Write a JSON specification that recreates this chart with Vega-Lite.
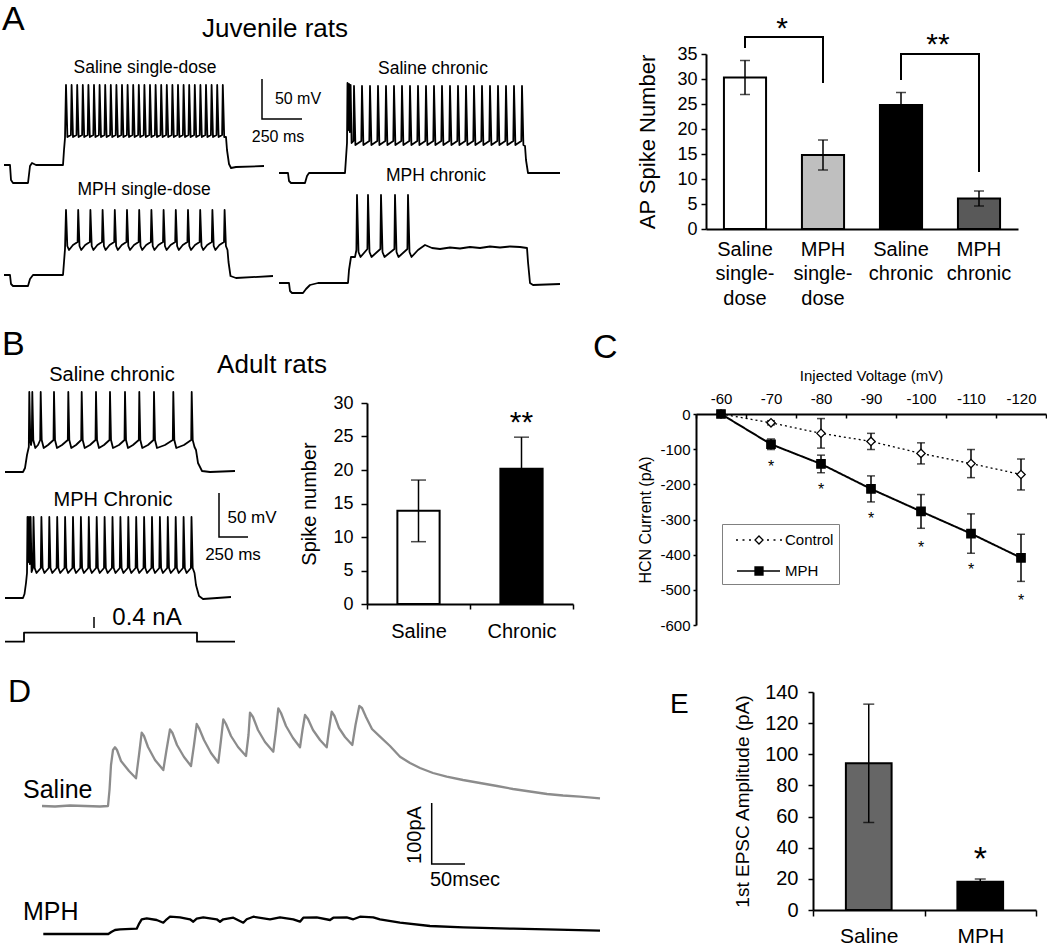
{
"$schema":"https://vega.github.io/schema/vega-lite/v6.json",
"padding":0,
"background":"white",
"spacing":0,
"resolve":{"scale":{"fill":"independent","color":"independent","shape":"independent","strokeDash":"independent","strokeWidth":"independent"}},
"config":{
 "view":{"stroke":null},
 "font":"Liberation Sans",
 "axis":{"labelFont":"Liberation Sans","titleFont":"Liberation Sans","labelColor":"black","titleColor":"black","domainColor":"black","tickColor":"black","titleFontWeight":"normal","grid":false,"domainWidth":2,"tickWidth":1.5,"labelOverlap":false,"labelFlush":false},
 "text":{"color":"black","font":"Liberation Sans"}
},
"vconcat":[
{"spacing":0,"bounds":"flush","resolve":{"scale":{"fill":"independent","color":"independent","shape":"independent","strokeDash":"independent","strokeWidth":"independent"}},"hconcat":[
 {"width":706,"height":310,
  "encoding":{
   "x":{"field":"t","type":"quantitative","scale":{"domain":[0,706],"nice":false,"zero":false},"axis":null},
   "y":{"field":"v","type":"quantitative","scale":{"domain":[0,310],"nice":false,"zero":false,"reverse":true},"axis":null}},
  "layer":[
   {"data":{"values":[
{"s":"a1","t":4,"v":165},{"s":"a1","t":10,"v":165},{"s":"a1","t":11,"v":180},{"s":"a1","t":13,"v":183},{"s":"a1","t":28,"v":183},{"s":"a1","t":30,"v":166},{"s":"a1","t":32,"v":163},{"s":"a1","t":36,"v":165},{"s":"a1","t":63,"v":165},{"s":"a1","t":64,"v":150},{"s":"a1","t":65,"v":138},
{"s":"a1","t":66,"v":85},{"s":"a1","t":67.4,"v":137},{"s":"a1","t":70.9,"v":135},
{"s":"a1","t":71.6,"v":85},{"s":"a1","t":73,"v":137},{"s":"a1","t":76.5,"v":135},
{"s":"a1","t":77.2,"v":85},{"s":"a1","t":78.6,"v":137},{"s":"a1","t":82.1,"v":135},
{"s":"a1","t":82.8,"v":85},{"s":"a1","t":84.2,"v":137},{"s":"a1","t":87.7,"v":135},
{"s":"a1","t":88.4,"v":85},{"s":"a1","t":89.8,"v":137},{"s":"a1","t":93.3,"v":135},
{"s":"a1","t":94,"v":85},{"s":"a1","t":95.4,"v":137},{"s":"a1","t":98.9,"v":135},
{"s":"a1","t":99.6,"v":85},{"s":"a1","t":101,"v":137},{"s":"a1","t":104.5,"v":135},
{"s":"a1","t":105.2,"v":85},{"s":"a1","t":106.6,"v":137},{"s":"a1","t":110.1,"v":135},
{"s":"a1","t":110.8,"v":85},{"s":"a1","t":112.2,"v":137},{"s":"a1","t":115.7,"v":135},
{"s":"a1","t":116.4,"v":85},{"s":"a1","t":117.8,"v":137},{"s":"a1","t":121.3,"v":135},
{"s":"a1","t":122,"v":85},{"s":"a1","t":123.4,"v":137},{"s":"a1","t":126.9,"v":135},
{"s":"a1","t":127.6,"v":85},{"s":"a1","t":129,"v":137},{"s":"a1","t":132.5,"v":135},
{"s":"a1","t":133.2,"v":85},{"s":"a1","t":134.6,"v":137},{"s":"a1","t":138.1,"v":135},
{"s":"a1","t":138.8,"v":85},{"s":"a1","t":140.2,"v":137},{"s":"a1","t":143.7,"v":135},
{"s":"a1","t":144.4,"v":85},{"s":"a1","t":145.8,"v":137},{"s":"a1","t":149.3,"v":135},
{"s":"a1","t":150,"v":85},{"s":"a1","t":151.4,"v":137},{"s":"a1","t":154.9,"v":135},
{"s":"a1","t":155.6,"v":85},{"s":"a1","t":157,"v":137},{"s":"a1","t":160.5,"v":135},
{"s":"a1","t":161.2,"v":85},{"s":"a1","t":162.6,"v":137},{"s":"a1","t":166.1,"v":135},
{"s":"a1","t":166.8,"v":85},{"s":"a1","t":168.2,"v":137},{"s":"a1","t":171.7,"v":135},
{"s":"a1","t":172.4,"v":85},{"s":"a1","t":173.8,"v":137},{"s":"a1","t":177.3,"v":135},
{"s":"a1","t":178,"v":85},{"s":"a1","t":179.4,"v":137},{"s":"a1","t":182.9,"v":135},
{"s":"a1","t":183.6,"v":85},{"s":"a1","t":185,"v":137},{"s":"a1","t":188.5,"v":135},
{"s":"a1","t":189.2,"v":85},{"s":"a1","t":190.6,"v":137},{"s":"a1","t":194.1,"v":135},
{"s":"a1","t":194.8,"v":85},{"s":"a1","t":196.2,"v":137},{"s":"a1","t":199.7,"v":135},
{"s":"a1","t":200.4,"v":85},{"s":"a1","t":201.8,"v":137},{"s":"a1","t":205.3,"v":135},
{"s":"a1","t":206,"v":85},{"s":"a1","t":207.4,"v":137},{"s":"a1","t":210.9,"v":135},
{"s":"a1","t":211.6,"v":85},{"s":"a1","t":213,"v":137},{"s":"a1","t":216.5,"v":135},
{"s":"a1","t":217.2,"v":85},{"s":"a1","t":218.6,"v":137},{"s":"a1","t":222.1,"v":135},
{"s":"a1","t":222.8,"v":85},{"s":"a1","t":224.2,"v":137},{"s":"a1","t":226,"v":137},{"s":"a1","t":227,"v":150},{"s":"a1","t":229,"v":164},{"s":"a1","t":231,"v":168},{"s":"a1","t":236,"v":167},{"s":"a1","t":264,"v":166},
{"s":"a2","t":279,"v":173},{"s":"a2","t":288,"v":173},{"s":"a2","t":289,"v":181},{"s":"a2","t":291,"v":183},{"s":"a2","t":305,"v":183},{"s":"a2","t":307,"v":176},{"s":"a2","t":309,"v":173},{"s":"a2","t":345,"v":173},{"s":"a2","t":346,"v":158},{"s":"a2","t":347,"v":143},
{"s":"a2","t":347.5,"v":83},{"s":"a2","t":348.2,"v":130},{"s":"a2","t":349,"v":84},{"s":"a2","t":349.8,"v":132},{"s":"a2","t":350.6,"v":85},{"s":"a2","t":351.6,"v":143},{"s":"a2","t":353.5,"v":141},
{"s":"a2","t":354,"v":86},{"s":"a2","t":355.4,"v":145},{"s":"a2","t":361.3,"v":141},
{"s":"a2","t":362,"v":86},{"s":"a2","t":363.4,"v":145},{"s":"a2","t":369.3,"v":141},
{"s":"a2","t":370,"v":86},{"s":"a2","t":371.4,"v":145},{"s":"a2","t":377.3,"v":141},
{"s":"a2","t":378,"v":86},{"s":"a2","t":379.4,"v":145},{"s":"a2","t":385.3,"v":141},
{"s":"a2","t":386,"v":86},{"s":"a2","t":387.4,"v":145},{"s":"a2","t":393.3,"v":141},
{"s":"a2","t":394,"v":86},{"s":"a2","t":395.4,"v":145},{"s":"a2","t":401.3,"v":141},
{"s":"a2","t":402,"v":86},{"s":"a2","t":403.4,"v":145},{"s":"a2","t":409.3,"v":141},
{"s":"a2","t":410,"v":86},{"s":"a2","t":411.4,"v":145},{"s":"a2","t":417.3,"v":141},
{"s":"a2","t":418,"v":86},{"s":"a2","t":419.4,"v":145},{"s":"a2","t":425.3,"v":141},
{"s":"a2","t":426,"v":86},{"s":"a2","t":427.4,"v":145},{"s":"a2","t":433.3,"v":141},
{"s":"a2","t":434,"v":86},{"s":"a2","t":435.4,"v":145},{"s":"a2","t":441.3,"v":141},
{"s":"a2","t":442,"v":86},{"s":"a2","t":443.4,"v":145},{"s":"a2","t":449.3,"v":141},
{"s":"a2","t":450,"v":86},{"s":"a2","t":451.4,"v":145},{"s":"a2","t":457.3,"v":141},
{"s":"a2","t":458,"v":86},{"s":"a2","t":459.4,"v":145},{"s":"a2","t":465.3,"v":141},
{"s":"a2","t":466,"v":86},{"s":"a2","t":467.4,"v":145},{"s":"a2","t":473.3,"v":141},
{"s":"a2","t":474,"v":86},{"s":"a2","t":475.4,"v":145},{"s":"a2","t":481.3,"v":141},
{"s":"a2","t":482,"v":86},{"s":"a2","t":483.4,"v":145},{"s":"a2","t":489.3,"v":141},
{"s":"a2","t":490,"v":86},{"s":"a2","t":491.4,"v":145},{"s":"a2","t":497.3,"v":141},
{"s":"a2","t":498,"v":86},{"s":"a2","t":499.4,"v":145},{"s":"a2","t":505.3,"v":141},
{"s":"a2","t":506,"v":86},{"s":"a2","t":507.4,"v":145},{"s":"a2","t":513.3,"v":141},
{"s":"a2","t":514,"v":86},{"s":"a2","t":515.4,"v":145},{"s":"a2","t":521.3,"v":141},
{"s":"a2","t":522,"v":86},{"s":"a2","t":523.4,"v":145},{"s":"a2","t":525,"v":146},{"s":"a2","t":526,"v":160},{"s":"a2","t":528,"v":173},{"s":"a2","t":560,"v":173},
{"s":"a3","t":4,"v":275},{"s":"a3","t":10,"v":275},{"s":"a3","t":11,"v":284},{"s":"a3","t":13,"v":286},{"s":"a3","t":28,"v":286},{"s":"a3","t":30,"v":279},{"s":"a3","t":33,"v":275},{"s":"a3","t":63,"v":275},{"s":"a3","t":64,"v":262},{"s":"a3","t":65,"v":249},
{"s":"a3","t":66,"v":210},{"s":"a3","t":67.3,"v":246},{"s":"a3","t":69,"v":250},{"s":"a3","t":73,"v":245},{"s":"a3","t":77.6,"v":242},
{"s":"a3","t":78.2,"v":210},{"s":"a3","t":79.5,"v":246},{"s":"a3","t":81.2,"v":250},{"s":"a3","t":85.2,"v":245},{"s":"a3","t":89.8,"v":242},
{"s":"a3","t":90.4,"v":210},{"s":"a3","t":91.7,"v":246},{"s":"a3","t":93.4,"v":250},{"s":"a3","t":97.4,"v":245},{"s":"a3","t":102,"v":242},
{"s":"a3","t":102.6,"v":210},{"s":"a3","t":103.9,"v":246},{"s":"a3","t":105.6,"v":250},{"s":"a3","t":109.6,"v":245},{"s":"a3","t":114.2,"v":242},
{"s":"a3","t":114.8,"v":210},{"s":"a3","t":116.1,"v":246},{"s":"a3","t":117.8,"v":250},{"s":"a3","t":121.8,"v":245},{"s":"a3","t":126.4,"v":242},
{"s":"a3","t":127,"v":210},{"s":"a3","t":128.3,"v":246},{"s":"a3","t":130,"v":250},{"s":"a3","t":134,"v":245},{"s":"a3","t":138.6,"v":242},
{"s":"a3","t":139.2,"v":210},{"s":"a3","t":140.5,"v":246},{"s":"a3","t":142.2,"v":250},{"s":"a3","t":146.2,"v":245},{"s":"a3","t":150.8,"v":242},
{"s":"a3","t":151.4,"v":210},{"s":"a3","t":152.7,"v":246},{"s":"a3","t":154.4,"v":250},{"s":"a3","t":158.4,"v":245},{"s":"a3","t":163,"v":242},
{"s":"a3","t":163.6,"v":210},{"s":"a3","t":164.9,"v":246},{"s":"a3","t":166.6,"v":250},{"s":"a3","t":170.6,"v":245},{"s":"a3","t":175.2,"v":242},
{"s":"a3","t":175.8,"v":210},{"s":"a3","t":177.1,"v":246},{"s":"a3","t":178.8,"v":250},{"s":"a3","t":182.8,"v":245},{"s":"a3","t":187.4,"v":242},
{"s":"a3","t":188,"v":210},{"s":"a3","t":189.3,"v":246},{"s":"a3","t":191,"v":250},{"s":"a3","t":195,"v":245},{"s":"a3","t":199.6,"v":242},
{"s":"a3","t":200.2,"v":210},{"s":"a3","t":201.5,"v":246},{"s":"a3","t":203.2,"v":250},{"s":"a3","t":207.2,"v":245},{"s":"a3","t":211.8,"v":242},
{"s":"a3","t":212.4,"v":210},{"s":"a3","t":213.7,"v":246},{"s":"a3","t":215.4,"v":250},{"s":"a3","t":219.4,"v":245},{"s":"a3","t":224,"v":242},
{"s":"a3","t":224.6,"v":210},{"s":"a3","t":225.9,"v":246},{"s":"a3","t":227.5,"v":250},{"s":"a3","t":228.5,"v":262},{"s":"a3","t":230.5,"v":276},{"s":"a3","t":236,"v":278},{"s":"a3","t":273,"v":276},
{"s":"a4","t":279,"v":283},{"s":"a4","t":289,"v":283},{"s":"a4","t":290,"v":291},{"s":"a4","t":292,"v":293},{"s":"a4","t":303,"v":293},{"s":"a4","t":306,"v":289},{"s":"a4","t":310,"v":285},{"s":"a4","t":318,"v":283},{"s":"a4","t":348,"v":283},{"s":"a4","t":349,"v":270},{"s":"a4","t":351,"v":257},{"s":"a4","t":355,"v":257},{"s":"a4","t":356.4,"v":250},
{"s":"a4","t":357,"v":195},{"s":"a4","t":358.5,"v":252},{"s":"a4","t":360.5,"v":257},{"s":"a4","t":367.4,"v":249},
{"s":"a4","t":368,"v":195},{"s":"a4","t":369.5,"v":252},{"s":"a4","t":371.5,"v":257},{"s":"a4","t":380.4,"v":249},
{"s":"a4","t":381,"v":195},{"s":"a4","t":382.5,"v":252},{"s":"a4","t":384.5,"v":257},{"s":"a4","t":394.4,"v":249},
{"s":"a4","t":395,"v":195},{"s":"a4","t":396.5,"v":252},{"s":"a4","t":398.5,"v":257},{"s":"a4","t":407.4,"v":249},
{"s":"a4","t":408,"v":195},{"s":"a4","t":409.5,"v":252},{"s":"a4","t":411.5,"v":257},{"s":"a4","t":418,"v":250},{"s":"a4","t":425,"v":245},{"s":"a4","t":432,"v":248},{"s":"a4","t":440,"v":249},{"s":"a4","t":450,"v":247.5},{"s":"a4","t":460,"v":248.5},{"s":"a4","t":470,"v":247},{"s":"a4","t":480,"v":248},{"s":"a4","t":490,"v":246.5},{"s":"a4","t":500,"v":247.5},{"s":"a4","t":510,"v":246.5},{"s":"a4","t":520,"v":247},{"s":"a4","t":527,"v":248},{"s":"a4","t":528,"v":262},{"s":"a4","t":530,"v":283},{"s":"a4","t":533,"v":285},{"s":"a4","t":560,"v":284}
   ]},"mark":{"type":"line","color":"black","strokeWidth":1.8,"strokeJoin":"round"},"encoding":{"detail":{"field":"s","type":"nominal"},"order":{"value":null}}},
   {"data":{"values":[{"s":"sb","t":262,"v":79},{"s":"sb","t":262,"v":119},{"s":"sb","t":302,"v":119}]},"mark":{"type":"line","color":"black","strokeWidth":1.5},"encoding":{"order":{"value":null}}},
   {"data":{"values":[{"label":"A","t":2,"v":20}]},"mark":{"type":"text","fontSize":34,"align":"left","baseline":"middle"},"encoding":{"text":{"field":"label"}}},
   {"data":{"values":[{"label":"Juvenile rats","t":275,"v":29}]},"mark":{"type":"text","fontSize":26,"align":"center","baseline":"middle"},"encoding":{"text":{"field":"label"}}},
   {"data":{"values":[{"label":"Saline single-dose","t":145,"v":68},{"label":"Saline chronic","t":433,"v":69},{"label":"MPH single-dose","t":144,"v":190},{"label":"MPH chronic","t":436,"v":176}]},"mark":{"type":"text","fontSize":17.5,"align":"center","baseline":"middle"},"encoding":{"text":{"field":"label"}}},
   {"data":{"values":[{"label":"50 mV","t":298,"v":99},{"label":"250 ms","t":278,"v":137}]},"mark":{"type":"text","fontSize":16,"align":"center","baseline":"middle"},"encoding":{"text":{"field":"label"}}}
  ]},
 {"width":312,"height":229,
  "data":{"values":[{"g":"Saline|single-|dose","m":30.3,"e":3.4},{"g":"MPH|single-|dose","m":14.8,"e":3.0},{"g":"Saline|chronic","m":24.8,"e":2.5},{"g":"MPH|chronic","m":6.1,"e":1.5}]},
  "encoding":{
   "x":{"field":"g","type":"nominal","sort":null,"scale":{"domain":["Saline|single-|dose","MPH|single-|dose","Saline|chronic","MPH|chronic"],"paddingInner":0,"paddingOuter":0},"axis":{"title":null,"labelAngle":0,"labelExpr":"split(datum.label,'|')","labelFontSize":20,"labelLineHeight":24.5,"labelBaseline":"top","labelPadding":10,"ticks":false}},
   "y":{"field":"m","type":"quantitative","scale":{"domain":[0,35],"range":[229,54],"nice":false},"axis":{"title":"AP Spike Number","values":[0,5,10,15,20,25,30,35],"labelFontSize":18,"titleFontSize":22,"tickSize":5,"labelPadding":4,"titlePadding":17}}},
  "layer":[
   {"mark":{"type":"bar","stroke":"black","strokeWidth":2,"width":{"band":0.54}},"encoding":{"fill":{"field":"g","type":"nominal","scale":{"domain":["Saline|single-|dose","MPH|single-|dose","Saline|chronic","MPH|chronic"],"range":["white","#bfbfbf","black","#595959"]},"legend":null}}},
   {"mark":{"type":"errorbar","color":"black","thickness":1.5,"ticks":{"size":10,"thickness":1.5,"color":"black"}},"encoding":{"yError":{"field":"e"}}},
   {"data":{"values":[{"g":"Saline|single-|dose","m":36.2,"k":1,"o":1},{"g":"Saline|single-|dose","m":38.4,"k":1,"o":2},{"g":"MPH|single-|dose","m":38.4,"k":1,"o":3},{"g":"MPH|single-|dose","m":29.2,"k":1,"o":4},{"g":"Saline|chronic","m":29.8,"k":2,"o":1},{"g":"Saline|chronic","m":35,"k":2,"o":2},{"g":"MPH|chronic","m":35,"k":2,"o":3},{"g":"MPH|chronic","m":11.4,"k":2,"o":4}]},"mark":{"type":"line","color":"black","strokeWidth":2},"encoding":{"detail":{"field":"k","type":"nominal"},"order":{"field":"o","type":"quantitative"}}},
   {"data":{"values":[{"g":"Saline|single-|dose","m":40,"lab":"*"},{"g":"Saline|chronic","m":36.8,"lab":"**"}]},"mark":{"type":"text","fontSize":30,"dx":37,"baseline":"middle"},"encoding":{"text":{"field":"lab"}}}
  ]}
]},
{"spacing":0,"bounds":"flush","resolve":{"scale":{"fill":"independent","color":"independent","shape":"independent","strokeDash":"independent","strokeWidth":"independent"}},"hconcat":[
 {"width":367,"height":335,
  "encoding":{
   "x":{"field":"t","type":"quantitative","scale":{"domain":[0,367],"nice":false,"zero":false},"axis":null},
   "y":{"field":"v","type":"quantitative","scale":{"domain":[10,345],"nice":false,"zero":false,"reverse":true},"axis":null}},
  "layer":[
   {"data":{"values":[
{"s":"b1","t":5,"v":172},{"s":"b1","t":23,"v":172},{"s":"b1","t":25,"v":168},{"s":"b1","t":27,"v":155},{"s":"b1","t":28.8,"v":147},
{"s":"b1","t":29.3,"v":92},{"s":"b1","t":30.3,"v":140},{"s":"b1","t":31,"v":145},{"s":"b1","t":31.8,"v":140},
{"s":"b1","t":32.3,"v":92},{"s":"b1","t":33.3,"v":140},{"s":"b1","t":35.3,"v":148},{"s":"b1","t":38,"v":145},{"s":"b1","t":40.2,"v":140},
{"s":"b1","t":40.7,"v":92},{"s":"b1","t":41.7,"v":140},{"s":"b1","t":43.7,"v":148},{"s":"b1","t":48,"v":145},{"s":"b1","t":53.5,"v":140},
{"s":"b1","t":54,"v":92},{"s":"b1","t":55,"v":140},{"s":"b1","t":57,"v":148},{"s":"b1","t":62,"v":145},{"s":"b1","t":67.8,"v":140},
{"s":"b1","t":68.3,"v":92},{"s":"b1","t":69.3,"v":140},{"s":"b1","t":71.3,"v":148},{"s":"b1","t":76,"v":145},{"s":"b1","t":81.2,"v":140},
{"s":"b1","t":81.7,"v":92},{"s":"b1","t":82.7,"v":140},{"s":"b1","t":84.7,"v":148},{"s":"b1","t":90,"v":145},{"s":"b1","t":95.5,"v":140},
{"s":"b1","t":96,"v":92},{"s":"b1","t":97,"v":140},{"s":"b1","t":99,"v":148},{"s":"b1","t":104,"v":145},{"s":"b1","t":109.5,"v":140},
{"s":"b1","t":110,"v":92},{"s":"b1","t":111,"v":140},{"s":"b1","t":113,"v":148},{"s":"b1","t":119,"v":145},{"s":"b1","t":124.5,"v":140},
{"s":"b1","t":125,"v":92},{"s":"b1","t":126,"v":140},{"s":"b1","t":128,"v":148},{"s":"b1","t":133,"v":145},{"s":"b1","t":138.8,"v":140},
{"s":"b1","t":139.3,"v":92},{"s":"b1","t":140.3,"v":140},{"s":"b1","t":142.3,"v":148},{"s":"b1","t":148,"v":145},{"s":"b1","t":153.5,"v":140},
{"s":"b1","t":154,"v":92},{"s":"b1","t":155,"v":140},{"s":"b1","t":157,"v":148},{"s":"b1","t":165,"v":145},{"s":"b1","t":172.8,"v":140},
{"s":"b1","t":173.3,"v":92},{"s":"b1","t":174.3,"v":140},{"s":"b1","t":176.3,"v":148},{"s":"b1","t":184,"v":145},{"s":"b1","t":191.2,"v":140},
{"s":"b1","t":191.7,"v":92},{"s":"b1","t":192.7,"v":140},{"s":"b1","t":194.5,"v":147},{"s":"b1","t":196,"v":150},{"s":"b1","t":198,"v":163},{"s":"b1","t":202,"v":171},{"s":"b1","t":210,"v":172},{"s":"b1","t":235,"v":171},
{"s":"b2","t":5,"v":298},{"s":"b2","t":23,"v":298},{"s":"b2","t":24.5,"v":294},{"s":"b2","t":26,"v":283},{"s":"b2","t":27,"v":273},
{"s":"b2","t":27.5,"v":217},{"s":"b2","t":28.2,"v":262},{"s":"b2","t":29,"v":217},{"s":"b2","t":29.8,"v":264},{"s":"b2","t":30.6,"v":217},{"s":"b2","t":31.6,"v":272},{"s":"b2","t":32.9,"v":268},
{"s":"b2","t":33.5,"v":217},{"s":"b2","t":34.7,"v":268},{"s":"b2","t":36.5,"v":273},{"s":"b2","t":40.8,"v":268},
{"s":"b2","t":41.4,"v":217},{"s":"b2","t":42.6,"v":268},{"s":"b2","t":44.4,"v":273},{"s":"b2","t":48.7,"v":268},
{"s":"b2","t":49.3,"v":217},{"s":"b2","t":50.5,"v":268},{"s":"b2","t":52.3,"v":273},{"s":"b2","t":56.6,"v":268},
{"s":"b2","t":57.2,"v":217},{"s":"b2","t":58.4,"v":268},{"s":"b2","t":60.2,"v":273},{"s":"b2","t":64.5,"v":268},
{"s":"b2","t":65.1,"v":217},{"s":"b2","t":66.3,"v":268},{"s":"b2","t":68.1,"v":273},{"s":"b2","t":72.4,"v":268},
{"s":"b2","t":73,"v":217},{"s":"b2","t":74.2,"v":268},{"s":"b2","t":76,"v":273},{"s":"b2","t":80.3,"v":268},
{"s":"b2","t":80.9,"v":217},{"s":"b2","t":82.1,"v":268},{"s":"b2","t":83.9,"v":273},{"s":"b2","t":88.2,"v":268},
{"s":"b2","t":88.8,"v":217},{"s":"b2","t":90,"v":268},{"s":"b2","t":91.8,"v":273},{"s":"b2","t":96.1,"v":268},
{"s":"b2","t":96.7,"v":217},{"s":"b2","t":97.9,"v":268},{"s":"b2","t":99.7,"v":273},{"s":"b2","t":104,"v":268},
{"s":"b2","t":104.6,"v":217},{"s":"b2","t":105.8,"v":268},{"s":"b2","t":107.6,"v":273},{"s":"b2","t":111.9,"v":268},
{"s":"b2","t":112.5,"v":217},{"s":"b2","t":113.7,"v":268},{"s":"b2","t":115.5,"v":273},{"s":"b2","t":119.8,"v":268},
{"s":"b2","t":120.4,"v":217},{"s":"b2","t":121.6,"v":268},{"s":"b2","t":123.4,"v":273},{"s":"b2","t":127.7,"v":268},
{"s":"b2","t":128.3,"v":217},{"s":"b2","t":129.5,"v":268},{"s":"b2","t":131.3,"v":273},{"s":"b2","t":135.6,"v":268},
{"s":"b2","t":136.2,"v":217},{"s":"b2","t":137.4,"v":268},{"s":"b2","t":139.2,"v":273},{"s":"b2","t":143.5,"v":268},
{"s":"b2","t":144.1,"v":217},{"s":"b2","t":145.3,"v":268},{"s":"b2","t":147.1,"v":273},{"s":"b2","t":151.4,"v":268},
{"s":"b2","t":152,"v":217},{"s":"b2","t":153.2,"v":268},{"s":"b2","t":155,"v":273},{"s":"b2","t":159.3,"v":268},
{"s":"b2","t":159.9,"v":217},{"s":"b2","t":161.1,"v":268},{"s":"b2","t":162.9,"v":273},{"s":"b2","t":167.2,"v":268},
{"s":"b2","t":167.8,"v":217},{"s":"b2","t":169,"v":268},{"s":"b2","t":170.8,"v":273},{"s":"b2","t":175.1,"v":268},
{"s":"b2","t":175.7,"v":217},{"s":"b2","t":176.9,"v":268},{"s":"b2","t":178.7,"v":273},{"s":"b2","t":183,"v":268},
{"s":"b2","t":183.6,"v":217},{"s":"b2","t":184.8,"v":268},{"s":"b2","t":186.6,"v":273},{"s":"b2","t":190.9,"v":268},
{"s":"b2","t":191.5,"v":217},{"s":"b2","t":192.7,"v":268},{"s":"b2","t":194.5,"v":273},{"s":"b2","t":196,"v":285},{"s":"b2","t":199,"v":296},{"s":"b2","t":203,"v":299},{"s":"b2","t":231,"v":297},
{"s":"b3","t":5,"v":341.7},{"s":"b3","t":24,"v":341.7},{"s":"b3","t":24,"v":332.7},{"s":"b3","t":197,"v":332.7},{"s":"b3","t":197,"v":341.7},{"s":"b3","t":235,"v":341.7}
   ]},"mark":{"type":"line","color":"black","strokeWidth":1.8,"strokeJoin":"round"},"encoding":{"detail":{"field":"s","type":"nominal"},"order":{"value":null}}},
   {"data":{"values":[{"s":"sb","t":219,"v":193},{"s":"sb","t":219,"v":237},{"s":"sb","t":248,"v":237},{"s":"tk","t":94,"v":317},{"s":"tk","t":94,"v":328}]},"mark":{"type":"line","color":"black","strokeWidth":1.5},"encoding":{"detail":{"field":"s","type":"nominal"},"order":{"value":null}}},
   {"data":{"values":[{"label":"B","t":2,"v":45}]},"mark":{"type":"text","fontSize":34,"align":"left","baseline":"middle"},"encoding":{"text":{"field":"label"}}},
   {"data":{"values":[{"label":"Adult rats","t":272,"v":65}]},"mark":{"type":"text","fontSize":26,"align":"center","baseline":"middle"},"encoding":{"text":{"field":"label"}}},
   {"data":{"values":[{"label":"Saline chronic","t":112,"v":75},{"label":"MPH Chronic","t":113,"v":200}]},"mark":{"type":"text","fontSize":20,"align":"center","baseline":"middle"},"encoding":{"text":{"field":"label"}}},
   {"data":{"values":[{"label":"50 mV","t":252,"v":218},{"label":"250 ms","t":233,"v":255}]},"mark":{"type":"text","fontSize":17,"align":"center","baseline":"middle"},"encoding":{"text":{"field":"label"}}},
   {"data":{"values":[{"label":"0.4 nA","t":147,"v":318}]},"mark":{"type":"text","fontSize":24,"align":"center","baseline":"middle"},"encoding":{"text":{"field":"label"}}}
  ]},
 {"width":206,"height":294,
  "data":{"values":[{"g":"Saline","m":13.9,"e":4.6},{"g":"Chronic","m":20.2,"e":4.7}]},
  "encoding":{
   "x":{"field":"g","type":"nominal","sort":null,"scale":{"domain":["Saline","Chronic"],"paddingInner":0,"paddingOuter":0},"axis":{"title":null,"labelAngle":0,"labelFontSize":20,"labelBaseline":"top","labelPadding":12,"tickBand":"extent","tickSize":5}},
   "y":{"field":"m","type":"quantitative","scale":{"domain":[0,30],"range":[294,93],"nice":false},"axis":{"title":"Spike number","values":[0,5,10,15,20,25,30],"labelFontSize":18,"titleFontSize":20,"tickSize":6,"labelPadding":8,"titlePadding":13}}},
  "layer":[
   {"mark":{"type":"bar","stroke":"black","strokeWidth":2,"width":{"band":0.41}},"encoding":{"fill":{"field":"g","type":"nominal","scale":{"domain":["Saline","Chronic"],"range":["white","black"]},"legend":null}}},
   {"mark":{"type":"errorbar","color":"black","thickness":1.5,"ticks":{"size":15,"thickness":1.5,"color":"black"}},"encoding":{"yError":{"field":"e"}}},
   {"data":{"values":[{"g":"Chronic","m":27.0,"lab":"**"}]},"mark":{"type":"text","fontSize":30,"baseline":"middle"},"encoding":{"text":{"field":"lab"}}}
  ]},
 {"width":123,"height":335,
  "data":{"values":[{"label":"C","t":20,"v":48}]},
  "mark":{"type":"text","fontSize":34,"align":"left","baseline":"middle"},
  "encoding":{
   "x":{"field":"t","type":"quantitative","scale":{"domain":[0,123],"nice":false,"zero":false},"axis":null},
   "y":{"field":"v","type":"quantitative","scale":{"domain":[10,345],"nice":false,"zero":false,"reverse":true},"axis":null},
   "text":{"field":"label"}}},
 {"width":350,"height":315,
  "data":{"values":[
{"V":"-60","S":"Control","m":0,"e":0},{"V":"-70","S":"Control","m":-25,"e":6},{"V":"-80","S":"Control","m":-55,"e":42},{"V":"-90","S":"Control","m":-78,"e":23},{"V":"-100","S":"Control","m":-112,"e":30},{"V":"-110","S":"Control","m":-141,"e":40},{"V":"-120","S":"Control","m":-172,"e":44},
{"V":"-60","S":"MPH","m":0,"e":0},{"V":"-70","S":"MPH","m":-86,"e":15},{"V":"-80","S":"MPH","m":-142,"e":25},{"V":"-90","S":"MPH","m":-213,"e":37},{"V":"-100","S":"MPH","m":-277,"e":48},{"V":"-110","S":"MPH","m":-340,"e":56},{"V":"-120","S":"MPH","m":-409,"e":67}]},
  "encoding":{
   "x":{"field":"V","type":"nominal","sort":null,"scale":{"domain":["-60","-70","-80","-90","-100","-110","-120"],"paddingInner":0,"paddingOuter":0},"axis":{"orient":"top","offset":-104,"title":"Injected Voltage (mV)","titleFontSize":15,"titlePadding":8,"labelAngle":0,"labelFontSize":15,"tickBand":"extent","tickSize":-4,"labelPadding":12}},
   "y":{"field":"m","type":"quantitative","scale":{"domain":[-600,0],"range":[315,104],"nice":false,"zero":false},"axis":{"title":"HCN Current (pA)","titleFontSize":16,"values":[-600,-500,-400,-300,-200,-100,0],"labelExpr":"''+datum.value","labelFontSize":15,"tickSize":3,"labelPadding":3,"titlePadding":6}}},
  "layer":[
   {"mark":{"type":"line","color":"black"},"encoding":{"detail":{"field":"S","type":"nominal"},"strokeDash":{"field":"S","type":"nominal","scale":{"domain":["Control","MPH"],"range":[[2,3],[1,0]]},"legend":null},"strokeWidth":{"field":"S","type":"nominal","scale":{"domain":["Control","MPH"],"range":[1.3,2]},"legend":null}}},
   {"transform":[{"filter":"datum.e > 0"}],"mark":{"type":"errorbar","color":"black","thickness":1.5,"ticks":{"size":8,"thickness":1.5,"color":"black"}},"encoding":{"yError":{"field":"e"}}},
   {"mark":{"type":"point","filled":true,"stroke":"black","strokeWidth":1.3,"size":70,"opacity":1},"encoding":{"shape":{"field":"S","type":"nominal","scale":{"domain":["Control","MPH"],"range":["diamond","square"]},"legend":null},"fill":{"field":"S","type":"nominal","scale":{"domain":["Control","MPH"],"range":["white","black"]},"legend":null}}},
   {"data":{"values":[{"V":"-70","m":-150},{"V":"-80","m":-217},{"V":"-90","m":-298},{"V":"-100","m":-380},{"V":"-110","m":-445},{"V":"-120","m":-533}]},"mark":{"type":"text","fontSize":16,"baseline":"middle","text":"*"}},
   {"data":{"values":[]},"mark":{"type":"point","filled":false,"color":"black","stroke":"black","strokeWidth":1.3,"opacity":1},"encoding":{
     "shape":{"field":"S","type":"nominal","scale":{"domain":["Control","MPH"],"range":["M-2.3,0H-2.1M-1.65,0H-1.45M-1,0H-0.8M0.8,0H1M1.45,0H1.65M2.1,0H2.3M0,-0.4L0.4,0L0,0.4L-0.4,0Z","M-2.2,0H2.1M-0.4,-0.4H0.4V0.4H-0.4ZM-0.4,-0.27H0.4M-0.4,-0.13H0.4M-0.4,0.13H0.4M-0.4,0.27H0.4"]},"legend":{"orient":"none","legendX":26,"legendY":214,"title":null,"strokeColor":"#808080","fillColor":"white","padding":5,"symbolSize":400,"symbolStrokeWidth":1.3,"symbolStrokeColor":"black","symbolFillColor":"white","symbolOpacity":1,"labelFontSize":15,"labelFont":"Liberation Sans","labelColor":"black","rowPadding":12,"labelOffset":15,"symbolOffset":21,
       "encode":{"symbols":{"update":{"stroke":{"value":"black"},"strokeWidth":{"value":1.3},"fill":{"value":"white"},"opacity":{"value":1},"strokeOpacity":{"value":1},"fillOpacity":{"value":1}}}}}}}}
  ],
  "resolve":{"scale":{"shape":"independent","fill":"independent"}}}
]},
{"spacing":0,"bounds":"flush","resolve":{"scale":{"fill":"independent","color":"independent","shape":"independent","strokeDash":"independent","strokeWidth":"independent"}},"hconcat":[
 {"width":813,"height":300,
  "encoding":{
   "x":{"field":"t","type":"quantitative","scale":{"domain":[0,813],"nice":false,"zero":false},"axis":null},
   "y":{"field":"v","type":"quantitative","scale":{"domain":[5,305],"nice":false,"zero":false,"reverse":true},"axis":null}},
  "layer":[
   {"data":{"values":[
{"s":"d1","t":42,"v":166},{"s":"d1","t":55,"v":166.5},{"s":"d1","t":70,"v":165.5},{"s":"d1","t":85,"v":166},{"s":"d1","t":100,"v":166.5},{"s":"d1","t":108,"v":166},{"s":"d1","t":109.5,"v":150},{"s":"d1","t":111,"v":125},{"s":"d1","t":113,"v":110},{"s":"d1","t":115,"v":107.3},{"s":"d1","t":117,"v":110},{"s":"d1","t":121,"v":121},{"s":"d1","t":129,"v":131},{"s":"d1","t":136,"v":138.3},
{"s":"d1","t":139,"v":115},{"s":"d1","t":141.7,"v":92.7},{"s":"d1","t":144,"v":96},{"s":"d1","t":148,"v":107},{"s":"d1","t":155,"v":120},{"s":"d1","t":163.3,"v":130},
{"s":"d1","t":166.5,"v":110},{"s":"d1","t":170,"v":89.3},{"s":"d1","t":172.5,"v":93},{"s":"d1","t":177,"v":105},{"s":"d1","t":184,"v":117},{"s":"d1","t":191,"v":126},
{"s":"d1","t":194,"v":105},{"s":"d1","t":196.7,"v":84},{"s":"d1","t":199,"v":88},{"s":"d1","t":204,"v":100},{"s":"d1","t":211,"v":113},{"s":"d1","t":218.3,"v":122.7},
{"s":"d1","t":221,"v":100},{"s":"d1","t":223.3,"v":79.3},{"s":"d1","t":226,"v":84},{"s":"d1","t":231,"v":96},{"s":"d1","t":238,"v":107},{"s":"d1","t":246,"v":116},
{"s":"d1","t":248.5,"v":95},{"s":"d1","t":250,"v":72.7},{"s":"d1","t":253,"v":77},{"s":"d1","t":258,"v":90},{"s":"d1","t":265,"v":102},{"s":"d1","t":273.3,"v":111.7},
{"s":"d1","t":276,"v":90},{"s":"d1","t":278.3,"v":68.3},{"s":"d1","t":281,"v":73},{"s":"d1","t":286,"v":86},{"s":"d1","t":293,"v":98},{"s":"d1","t":300,"v":107.3},
{"s":"d1","t":302.5,"v":90},{"s":"d1","t":305,"v":75},{"s":"d1","t":308,"v":79},{"s":"d1","t":313,"v":90},{"s":"d1","t":320,"v":100},{"s":"d1","t":326.7,"v":107.3},
{"s":"d1","t":329,"v":90},{"s":"d1","t":331.7,"v":71.7},{"s":"d1","t":334.5,"v":76},{"s":"d1","t":339,"v":88},{"s":"d1","t":345,"v":97},{"s":"d1","t":352.3,"v":105},
{"s":"d1","t":355.5,"v":85},{"s":"d1","t":359.3,"v":66},{"s":"d1","t":362,"v":68},{"s":"d1","t":366,"v":77},{"s":"d1","t":372,"v":89},{"s":"d1","t":380,"v":96.7},{"s":"d1","t":390,"v":106},{"s":"d1","t":400,"v":116.7},{"s":"d1","t":410,"v":123},{"s":"d1","t":420,"v":128},{"s":"d1","t":433,"v":133},{"s":"d1","t":446.7,"v":136.7},{"s":"d1","t":463,"v":140},{"s":"d1","t":480,"v":143},{"s":"d1","t":497,"v":146},{"s":"d1","t":513,"v":149},{"s":"d1","t":530,"v":151.5},{"s":"d1","t":547,"v":154},{"s":"d1","t":563,"v":155.5},{"s":"d1","t":580,"v":156.7},{"s":"d1","t":600,"v":158.3},
{"s":"d2","t":43.3,"v":294},{"s":"d2","t":108.3,"v":294},{"s":"d2","t":111.7,"v":291.7},{"s":"d2","t":115,"v":290},{"s":"d2","t":120,"v":289.3},{"s":"d2","t":136.7,"v":288.7},{"s":"d2","t":139.3,"v":283.3},{"s":"d2","t":141.7,"v":279.3},{"s":"d2","t":146.7,"v":278.3},{"s":"d2","t":156.7,"v":280},{"s":"d2","t":163.3,"v":282.7},{"s":"d2","t":166.7,"v":279.3},{"s":"d2","t":170,"v":276.7},{"s":"d2","t":180,"v":277.3},{"s":"d2","t":190,"v":279.3},{"s":"d2","t":193.3,"v":281.7},{"s":"d2","t":196.7,"v":278.7},{"s":"d2","t":203.3,"v":277.3},{"s":"d2","t":216.7,"v":279.3},{"s":"d2","t":220,"v":281.7},{"s":"d2","t":223.3,"v":279.3},{"s":"d2","t":233.3,"v":277.7},{"s":"d2","t":243.3,"v":282.7},{"s":"d2","t":246.7,"v":279.3},{"s":"d2","t":253.3,"v":276.7},{"s":"d2","t":270,"v":279.3},{"s":"d2","t":280,"v":277.3},{"s":"d2","t":293.3,"v":279.3},{"s":"d2","t":300,"v":281.7},{"s":"d2","t":303.3,"v":277.7},{"s":"d2","t":316.7,"v":277.3},{"s":"d2","t":330,"v":280},{"s":"d2","t":333.3,"v":277.7},{"s":"d2","t":346.7,"v":277.3},{"s":"d2","t":353.3,"v":279.3},{"s":"d2","t":360,"v":276.7},{"s":"d2","t":373.3,"v":277.3},{"s":"d2","t":380,"v":279.3},{"s":"d2","t":400,"v":282.7},{"s":"d2","t":430,"v":286},{"s":"d2","t":463.3,"v":287.3},{"s":"d2","t":513.3,"v":288.7},{"s":"d2","t":546.7,"v":289.3},{"s":"d2","t":600,"v":290.7}
   ]},"mark":{"type":"line","strokeWidth":2.3,"strokeJoin":"round"},"encoding":{"detail":{"field":"s","type":"nominal"},"color":{"field":"s","type":"nominal","scale":{"domain":["d1","d2"],"range":["#8c8c8c","black"]},"legend":null},"order":{"value":null}}},
   {"data":{"values":[{"s":"sb","t":431.7,"v":163},{"s":"sb","t":431.7,"v":224},{"s":"sb","t":465,"v":224}]},"mark":{"type":"line","color":"black","strokeWidth":1.5},"encoding":{"order":{"value":null}}},
   {"data":{"values":[{"label":"D","t":8,"v":52}]},"mark":{"type":"text","fontSize":32,"align":"left","baseline":"middle"},"encoding":{"text":{"field":"label"}}},
   {"data":{"values":[{"label":"E","t":670,"v":65}]},"mark":{"type":"text","fontSize":28,"align":"left","baseline":"middle"},"encoding":{"text":{"field":"label"}}},
   {"data":{"values":[{"label":"Saline","t":23,"v":150},{"label":"MPH","t":23,"v":272}]},"mark":{"type":"text","fontSize":25,"align":"left","baseline":"middle"},"encoding":{"text":{"field":"label"}}},
   {"data":{"values":[{"label":"50msec","t":465,"v":240}]},"mark":{"type":"text","fontSize":20,"align":"center","baseline":"middle"},"encoding":{"text":{"field":"label"}}},
   {"data":{"values":[{"label":"100pA","t":415,"v":195}]},"mark":{"type":"text","fontSize":20,"align":"center","baseline":"middle","angle":270},"encoding":{"text":{"field":"label"}}}
  ]},
 {"width":223,"height":265,
  "data":{"values":[{"g":"Saline","m":94.2,"e":38},{"g":"MPH","m":18.2,"e":1.7}]},
  "encoding":{
   "x":{"field":"g","type":"nominal","sort":null,"scale":{"domain":["Saline","MPH"],"paddingInner":0,"paddingOuter":0},"axis":{"title":null,"labelAngle":0,"labelFontSize":21,"labelBaseline":"top","labelPadding":9,"tickBand":"extent","tickSize":6}},
   "y":{"field":"m","type":"quantitative","scale":{"domain":[0,140],"range":[265,47],"nice":false},"axis":{"title":"1st EPSC Amplitude (pA)","values":[0,20,40,60,80,100,120,140],"labelFontSize":20,"titleFontSize":19,"tickSize":5,"labelPadding":10,"titlePadding":12}}},
  "layer":[
   {"mark":{"type":"bar","stroke":"black","strokeWidth":2,"width":{"band":0.41}},"encoding":{"fill":{"field":"g","type":"nominal","scale":{"domain":["Saline","MPH"],"range":["#666666","black"]},"legend":null}}},
   {"mark":{"type":"errorbar","color":"black","thickness":1.5,"ticks":{"size":11,"thickness":1.5,"color":"black"}},"encoding":{"yError":{"field":"e"}}},
   {"data":{"values":[{"g":"MPH","m":32.4,"lab":"*"}]},"mark":{"type":"text","fontSize":34,"baseline":"middle"},"encoding":{"text":{"field":"lab"}}}
  ]}
]}
]
}
